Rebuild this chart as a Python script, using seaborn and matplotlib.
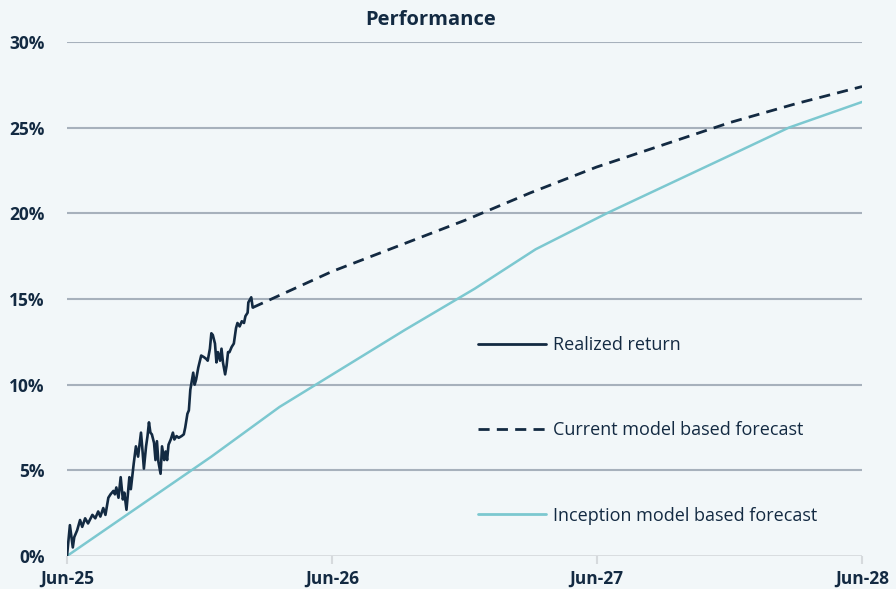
import matplotlib
matplotlib.use("Agg")
import matplotlib.pyplot as plt
import matplotlib.dates as mdates
import matplotlib.ticker as mticker
import pandas as pd
import seaborn as sns

# realized cumulative return (%)
realized_dates = [
    "2025-06-30", "2025-07-04", "2025-07-08", "2025-07-10", "2025-07-14", "2025-07-18",
    "2025-07-21", "2025-07-25", "2025-07-29", "2025-08-04", "2025-08-08", "2025-08-12",
    "2025-08-15", "2025-08-19", "2025-08-22", "2025-08-26", "2025-08-29", "2025-09-02",
    "2025-09-04", "2025-09-06", "2025-09-09", "2025-09-12", "2025-09-15", "2025-09-17",
    "2025-09-20", "2025-09-24", "2025-09-26", "2025-09-30", "2025-10-03", "2025-10-06",
    "2025-10-10", "2025-10-12", "2025-10-14", "2025-10-17", "2025-10-19", "2025-10-21",
    "2025-10-23", "2025-10-25", "2025-10-28", "2025-10-30", "2025-11-01", "2025-11-03",
    "2025-11-06", "2025-11-08", "2025-11-11", "2025-11-13", "2025-11-15", "2025-11-17",
    "2025-11-20", "2025-11-23", "2025-11-25", "2025-11-28", "2025-12-01", "2025-12-05",
    "2025-12-08", "2025-12-10", "2025-12-13", "2025-12-15", "2025-12-17", "2025-12-21",
    "2025-12-23", "2025-12-25", "2025-12-28", "2026-01-01", "2026-01-05", "2026-01-08",
    "2026-01-10", "2026-01-13", "2026-01-15", "2026-01-17", "2026-01-20", "2026-01-22",
    "2026-01-24", "2026-01-27", "2026-01-29", "2026-01-31", "2026-02-03", "2026-02-05",
    "2026-02-07", "2026-02-09", "2026-02-12", "2026-02-15", "2026-02-18", "2026-02-20",
    "2026-02-23", "2026-02-26", "2026-03-01", "2026-03-03", "2026-03-06", "2026-03-07",
    "2026-03-11", "2026-03-13",
]
realized_vals = [
    0.0, 1.8, 0.5, 1.1, 1.5, 2.1,
    1.7, 2.2, 1.9, 2.4, 2.2, 2.6,
    2.3, 2.8, 2.4, 3.4, 3.6, 3.8,
    3.6, 4.0, 3.4, 4.6, 3.3, 3.7,
    2.7, 4.6, 3.9, 5.4, 6.4, 5.8,
    7.2, 6.2, 5.1, 6.4, 7.0, 7.8,
    7.2, 7.1, 6.6, 5.6, 6.7, 5.5,
    4.8, 6.4, 5.6, 6.1, 5.6, 6.5,
    6.8, 7.2, 6.8, 7.0, 6.9, 7.0,
    7.1, 7.5, 8.3, 8.5, 9.7, 10.7,
    10.0, 10.3, 11.0, 11.7, 11.6, 11.5,
    11.4, 12.1, 13.0, 12.9, 12.4, 11.3,
    11.9, 11.4, 12.1, 11.3, 10.6, 11.1,
    11.9, 11.9, 12.2, 12.4, 13.3, 13.6,
    13.4, 13.7, 13.6, 14.0, 14.2, 14.8,
    15.1, 14.5,
]

# current model based forecast (%)
current_dates = ["2026-03-13", "2026-06-30", "2026-09-30", "2026-12-31", "2027-03-31",
                 "2027-06-30", "2027-09-30", "2027-12-31", "2028-03-31", "2028-06-30"]
current_vals = [14.5, 16.6, 18.1, 19.6, 21.2, 22.7, 24.0, 25.3, 26.4, 27.4]

# inception model based forecast (%)
inception_dates = ["2025-06-30", "2026-01-15", "2026-04-19", "2026-10-09",
                   "2027-01-13", "2027-04-07", "2027-07-14", "2028-01-16", "2028-03-21",
                   "2028-06-30"]
inception_vals = [0.0, 5.8, 8.7, 13.2, 15.6, 17.9, 20.0, 23.7, 25.0, 26.5]

tick_dates = ["2025-06-30", "2026-06-30", "2027-06-30", "2028-06-30"]

navy = "#132a42"
teal = "#7cc8d0"
bg = "#f2f7f9"

df_real = pd.DataFrame({"date": pd.to_datetime(realized_dates), "ret": realized_vals})
df_cur = pd.DataFrame({"date": pd.to_datetime(current_dates), "ret": current_vals})
df_inc = pd.DataFrame({"date": pd.to_datetime(inception_dates), "ret": inception_vals})

sns.set_theme(style="white")
plt.rcParams["font.family"] = ["Open Sans", "DejaVu Sans"]

fig = plt.figure(figsize=(8.96, 5.89), dpi=100, facecolor=bg)
ax = fig.add_axes([67 / 896, 33 / 589, 795 / 896, 514 / 589])
ax.set_facecolor(bg)

# grid lines (drawn under the data)
for v in [5, 10, 15, 20, 25, 30]:
    ax.axhline(v, color="#a7b1bc", lw=1.5, zorder=0)
ax.axhline(0, color="#d6dadd", lw=2, zorder=0)

sns.lineplot(data=df_real, x="date", y="ret", ax=ax, color=navy, lw=1.9,
             label="Realized return", zorder=3)
sns.lineplot(data=df_cur, x="date", y="ret", ax=ax, color=navy, lw=2.0,
             label="Current model based forecast", zorder=3)
ax.lines[-1].set_dashes([4, 2.6])
sns.lineplot(data=df_inc, x="date", y="ret", ax=ax, color=teal, lw=1.8,
             label="Inception model based forecast", zorder=2)

ticks = pd.to_datetime(tick_dates)
ax.set_xlim(ticks[0], ticks[-1])
ax.set_ylim(0, 30)
ax.set_xticks(ticks)
ax.xaxis.set_major_formatter(mdates.DateFormatter("%b-%y"))
ax.set_yticks([0, 5, 10, 15, 20, 25, 30])
ax.yaxis.set_major_formatter(mticker.FuncFormatter(lambda v, p: f"{v:.0f}%"))
ax.set_xlabel("")
ax.set_ylabel("")

for s in ax.spines.values():
    s.set_visible(False)

ax.tick_params(axis="x", which="major", bottom=True, length=6, width=1.5,
               color="#d6dadd", pad=4, labelsize=12.5, labelcolor=navy)
ax.tick_params(axis="y", length=0, pad=16, labelsize=12.5, labelcolor=navy)
for lab in ax.get_xticklabels() + ax.get_yticklabels():
    lab.set_fontweight("bold")

leg = ax.legend(loc="upper left", bbox_to_anchor=(0.517, 0.428), frameon=False,
                fontsize=13, handlelength=3.77, handletextpad=0.39,
                labelspacing=3.73, borderpad=0, borderaxespad=0)
for t in leg.get_texts():
    t.set_color(navy)
for h in leg.get_lines():
    h.set_linewidth(2.0)

fig.text(431 / 896, 1 - 20 / 589, "Performance", ha="center", va="center",
         fontsize=14.5, fontweight="bold", color=navy)

plt.savefig("out.png", dpi=100, facecolor=bg)
